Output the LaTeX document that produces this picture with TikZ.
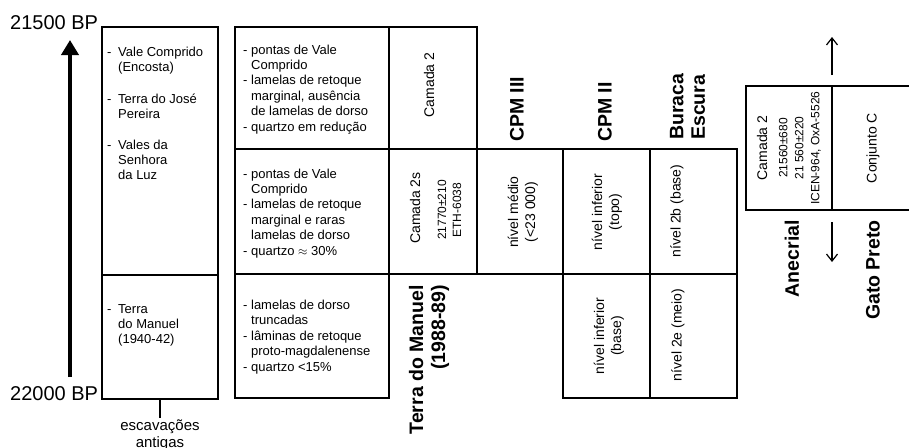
\documentclass[tikz,border=0pt]{standalone}
\usepackage{fontspec}
\setmainfont{Liberation Sans}
\usetikzlibrary{arrows.meta}
\newcommand{\fs}[2]{\fontsize{#1}{#2}\selectfont}
\newcommand{\dA}{\makebox[11pt][l]{-}}
\newcommand{\dB}{\hspace*{11pt}}
\newcommand{\dd}{\phantom{- }}
\begin{document}
\begin{tikzpicture}[x=1pt,y=-1pt,
  grid/.style={line width=1.8pt, line cap=rect},
  list/.style={inner sep=0pt, align=left, anchor=base west, font=\fs{13}{15.4}},
  rlab/.style={inner sep=0pt, rotate=90, align=center, font=\fs{14}{17}},
  rsmall/.style={inner sep=0pt, rotate=90, align=center, font=\fs{12}{16}},
  head/.style={inner sep=0pt, rotate=90, font=\bfseries\fs{19.5}{21.5}},
  bp/.style={inner sep=0pt, anchor=west, font=\fs{20}{24}},
  thin/.style={line width=1.2pt, -{Straight Barb[length=7pt,width=11pt]}}]
\useasboundingbox (0,0) rectangle (909,447);

% time axis
\node[bp] (bpA) at (10,22.5) {21500 BP};
\node[bp] (bpB) at (10,394) {22000 BP};
\coordinate (axB) at (70,377);
\coordinate (axT) at (70,40);
\draw[line width=4.5pt, -{Triangle[length=15pt,width=17pt]}] (axB) -- (axT);

% box 1: escavacoes antigas
\draw[grid] (102,27) rectangle (218,399);
\draw[grid] (102,275) -- (218,275);
% anchor base = baseline of the last line
\node[list, font=\fs{13}{15}] (b1a) at (107,179) {\dA Vale Comprido\\ \dB(Encosta)\\[17pt]
  \dA Terra do José\\ \dB Pereira\\[16pt]
  \dA Vales da\\ \dB Senhora\\ \dB da Luz};
\node[list, font=\fs{13}{15}] (b1b) at (107,343) {\dA Terra\\ \dB do Manuel\\ \dB(1940-42)};
\coordinate (tick) at (160,399);
\node[inner sep=0pt, align=center, anchor=base, font=\fs{15}{17}] (esc) at (160,447) {escavações\\antigas};
\draw[line width=2.5pt] (tick) -- (160,418);

% Terra do Manuel (1988-89) grid
\draw[grid] (235,27) rectangle (477,274);
\draw[grid] (389,27) -- (389,274);
\draw[grid] (235,149) -- (737,149);
\draw[grid] (235,274) -- (737,274);
\draw[grid] (235,274) rectangle (389,398);
\draw[grid] (563,149) -- (563,398);
\draw[grid] (650,149) -- (650,398);
\draw[grid] (737,149) -- (737,398);
\draw[grid] (563,398) -- (737,398);

\node[list] (t1) at (243,131) {- pontas de Vale\\ \dd Comprido\\
  - lamelas de retoque\\ \dd marginal, ausência\\ \dd de lamelas de dorso\\
  - quartzo em redução};
\node[list] (t2) at (243,255) {- pontas de Vale\\ \dd Comprido\\
  - lamelas de retoque\\ \dd marginal e raras\\ \dd lamelas de dorso\\
  - quartzo $\approx$ 30\%};
\node[list] (t3) at (243,371) {- lamelas de dorso\\ \dd truncadas\\
  - lâminas de retoque\\ \dd proto-magdalenense\\
  - quartzo <15\%};

\node[rlab] (c2) at (429,85) {Camada 2};
\node[rlab] (c2s) at (415,208) {Camada 2s};
\node[rsmall, font=\fs{12}{15}] (c2sd) at (449.5,210) {21770±210\\ETH-6038};
\node[head, align=right, anchor=east, font=\bfseries\fs{19.5}{22}] (tm) at (429,285) {Terra do Manuel\\(1988-89)};

% CPM III, CPM II, Buraca Escura
\node[head, anchor=west] (cpm3) at (517,142) {CPM III};
\node[head, anchor=west] (cpm2) at (605,142) {CPM II};
\node[head, anchor=west, align=left] (be) at (687.5,140) {Buraca\\Escura};
\node[rlab] (n1) at (523,212) {nível médio\\(<23 000)};
\node[rlab] (n2) at (607,212) {nível inferior\\(topo)};
\node[rlab] (n3) at (609,336) {nível inferior\\(base)};
\node[rlab] (n4) at (677,211) {nível 2b (base)};
\node[rlab] (n5) at (678,335) {nível 2e (meio)};

% Anecrial / Gato Preto
\draw[grid, line cap=butt] (909,86) -- (746,86) -- (746,210) -- (909,210);
\draw[grid] (832,86) -- (832,210);
\node[rlab] (ac) at (762,148) {Camada 2};
\node[rsmall] (ad) at (800,148) {21560±680\\21 560±220\\ICEN-964, OxA-5526};
\node[rlab] (gc) at (873,148) {Conjunto C};
\node[head, anchor=east] (an) at (792,220) {Anecrial};
\node[head, anchor=east] (gp) at (873,220) {Gato Preto};
\coordinate (uA) at (832,75);
\coordinate (uB) at (832,37);
\coordinate (dA) at (832,222);
\coordinate (dB) at (832,262);
\draw[thin] (uA) -- (uB);
\draw[thin] (dA) -- (dB);
\end{tikzpicture}
\end{document}
